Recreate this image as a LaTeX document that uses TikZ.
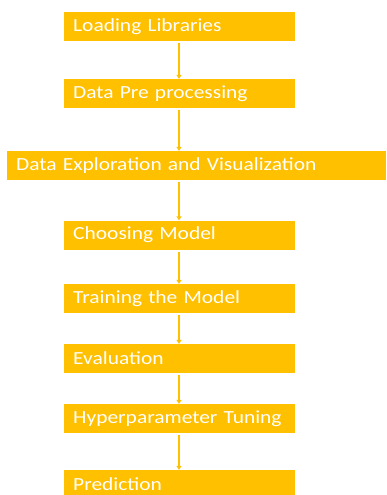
\documentclass[tikz,border=0pt]{standalone}
\usepackage{fontspec}
\setmainfont{Carlito}[FakeStretch=1.16]
\usepackage{xcolor}
\usetikzlibrary{arrows.meta}
\definecolor{gold}{HTML}{FFC000}

\begin{document}
\begin{tikzpicture}[x=1pt, y=-1pt,
        stage/.style={fill=gold, anchor=west, minimum height=29pt, inner xsep=9pt,
            text width=213pt, align=left, text=white, font=\fontsize{18.5}{20}\selectfont},
        flow/.style={-{Triangle[width=5pt, length=4pt]}, gold, line width=1.2pt, shorten <=2pt}]
        \useasboundingbox (0,0) rectangle (386,495);
        \clip (0,0) rectangle (386,495);
        \node[stage] at (64, 26.5)   (load) {Loading Libraries};
        \node[stage] at (64, 93.5)   (prep) {Data Pre processing};
        \node[stage, text width=361pt] at (7, 165.5)   (explore) {Data Exploration and Visualization};
        \node[stage] at (64, 235)   (choose) {Choosing Model};
        \node[stage] at (64, 298.5)   (train) {Training the Model};
        \node[stage] at (64, 358.5)   (eval) {Evaluation};
        \node[stage] at (64, 418.5)   (tune) {Hyperparameter Tuning};
        \node[stage] at (64, 484.5)   (pred) {Prediction};
        \draw [flow] (load.south -| 179,0) -- (prep.north -| 179,0);
        \draw [flow] (prep.south -| 179,0) -- (explore.north -| 179,0);
        \draw [flow] (explore.south -| 179,0) -- (choose.north -| 179,0);
        \draw [flow] (choose.south -| 179,0) -- (train.north -| 179,0);
        \draw [flow] (train.south -| 179,0) -- (eval.north -| 179,0);
        \draw [flow] (eval.south -| 179,0) -- (tune.north -| 179,0);
        \draw [flow] (tune.south -| 179,0) -- (pred.north -| 179,0);
    \end{tikzpicture}
\end{document}
